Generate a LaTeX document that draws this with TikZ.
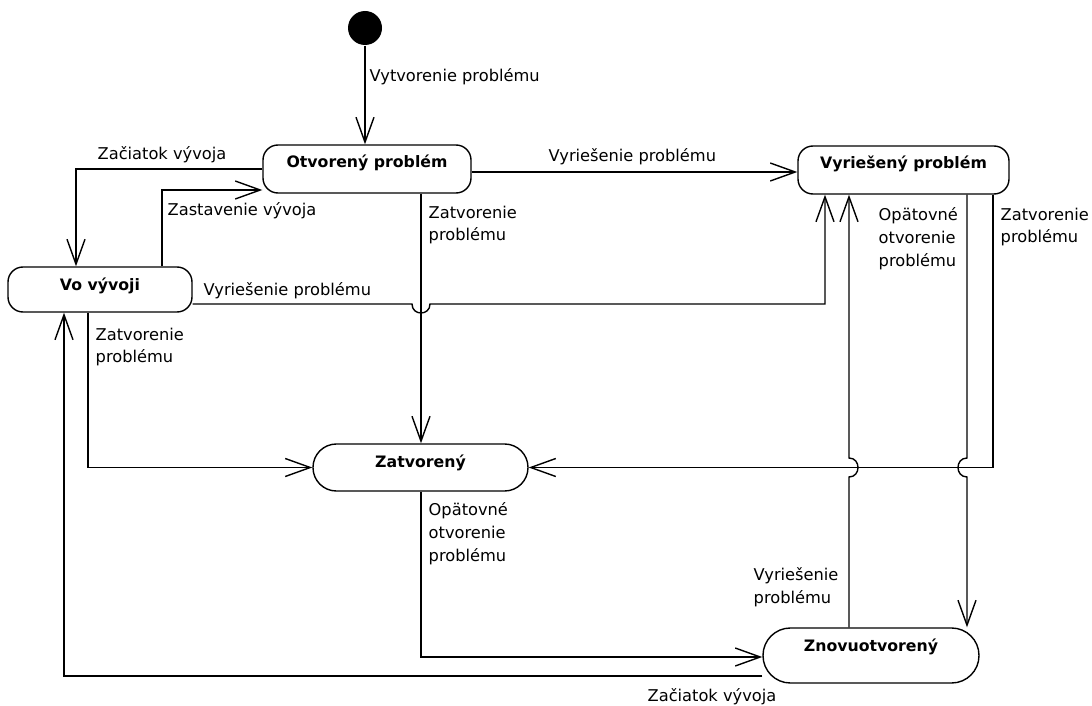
\documentclass[tikz,border=0pt]{standalone}
\usepackage{fontspec}
\setmainfont{DejaVu Sans}
\usetikzlibrary{arrows.meta}
\begin{document}
\begin{tikzpicture}[x=1bp,y=-1bp,line width=1.4bp,
  state/.style={draw, rounded corners=15bp, inner xsep=0pt, inner ysep=11bp,
    text height=12bp, font=\fontsize{15.8}{18}\selectfont\bfseries},
  tr/.style={-{Straight Barb[length=25bp,width=18bp]}},
  lbl/.style={inner sep=0pt, anchor=west, align=left,
    font=\fontsize{16.3}{23}\selectfont}]
\useasboundingbox[fill=white] (0,0) rectangle (1092,706);

% states
\node[circle, fill=black, minimum size=34bp, inner sep=0pt] (init) at (365,28) {};
\node[state, minimum width=208bp, text depth=14bp] (op)  at (367,169)   {Otvorený problém};
\node[state, minimum width=211bp, text depth=14bp] (vyr) at (903.5,170) {Vyriešený problém};
\node[state, minimum width=184bp, text depth=11bp] (vv)  at (100,289.5) {Vo vývoji};
\node[state, rounded corners=23.4bp, minimum width=215bp, text depth=13bp] (zat) at (420.5,467.5) {Zatvorený};
\node[state, rounded corners=27.4bp, minimum width=216bp, text depth=21bp] (zn)  at (871,655.5)  {Znovuotvorený};

% routing columns and rows
\coordinate (xA) at (64,0);
\coordinate (xB) at (76,0);
\coordinate (xC) at (88,0);
\coordinate (xD) at (162,0);
\coordinate (xE) at (421,0);
\coordinate (xF) at (825,0);
\coordinate (xG) at (849,0);
\coordinate (xH) at (967,0);
\coordinate (xI) at (993,0);
\coordinate (yB) at (0,190);
\coordinate (yC) at (0,304);
\coordinate (yE) at (0,657);
\coordinate (yF) at (0,676);
\coordinate (yG) at (0,172);
% line hops
\coordinate (hopA1) at (412,304);
\coordinate (hopA2) at (430,304);
\coordinate (hopB1) at (849,458);
\coordinate (hopB2) at (849,477);
\coordinate (hopC1) at (967,458);
\coordinate (hopC2) at (967,477);

% transitions
\draw[tr] (init.south) -- (init.south |- op.north);
\draw[tr] (op.west) -| (xB |- vv.north);
\draw[tr] (xD |- vv.north) |- (op.west |- yB);
\draw[tr] (op.east |- yG) -- (vyr.west |- yG);
\draw[tr] (xE |- op.south) -- (xE |- zat.north);
\draw[tr] (vv.east |- yC) -- (hopA1) .. controls +(0,12) and +(0,12) .. (hopA2) -| (xF |- vyr.south);
\draw[tr] (xC |- vv.south) |- (zat.west);
\draw[tr] (xI |- vyr.south) |- (zat.east);
\draw[tr] (xH |- vyr.south) -- (hopC1) .. controls +(-12,0) and +(-12,0) .. (hopC2) -- (xH |- zn.north);
\draw[tr] (xG |- zn.north) -- (hopB2) .. controls +(12,0) and +(12,0) .. (hopB1) -- (xG |- vyr.south);
\draw[tr] (xE |- zat.south) |- (zn.west |- yE);
\draw[tr] (zn.west |- yF) -| (xA |- vv.south);

% transition labels
\node[lbl] (l1)  at (369,77)  {Vytvorenie problému};
\node[lbl] (l2)  at (97,155)  {Začiatok vývoja};
\node[lbl] (l3)  at (167,211) {Zastavenie vývoja};
\node[lbl] (l4)  at (548,157) {Vyriešenie problému};
\node[lbl] (l5)  at (428,225) {Zatvorenie\\problému};
\node[lbl] (l6)  at (203,291) {Vyriešenie problému};
\node[lbl] (l7)  at (95,347)  {Zatvorenie\\problému};
\node[lbl] (l8)  at (878,239) {Opätovné\\otvorenie\\problému};
\node[lbl] (l9)  at (1000,227) {Zatvorenie\\problému};
\node[lbl] (l10) at (428,534) {Opätovné\\otvorenie\\problému};
\node[lbl] (l11) at (753,587) {Vyriešenie\\problému};
\node[lbl] (l12) at (647,697) {Začiatok vývoja};
\end{tikzpicture}
\end{document}
